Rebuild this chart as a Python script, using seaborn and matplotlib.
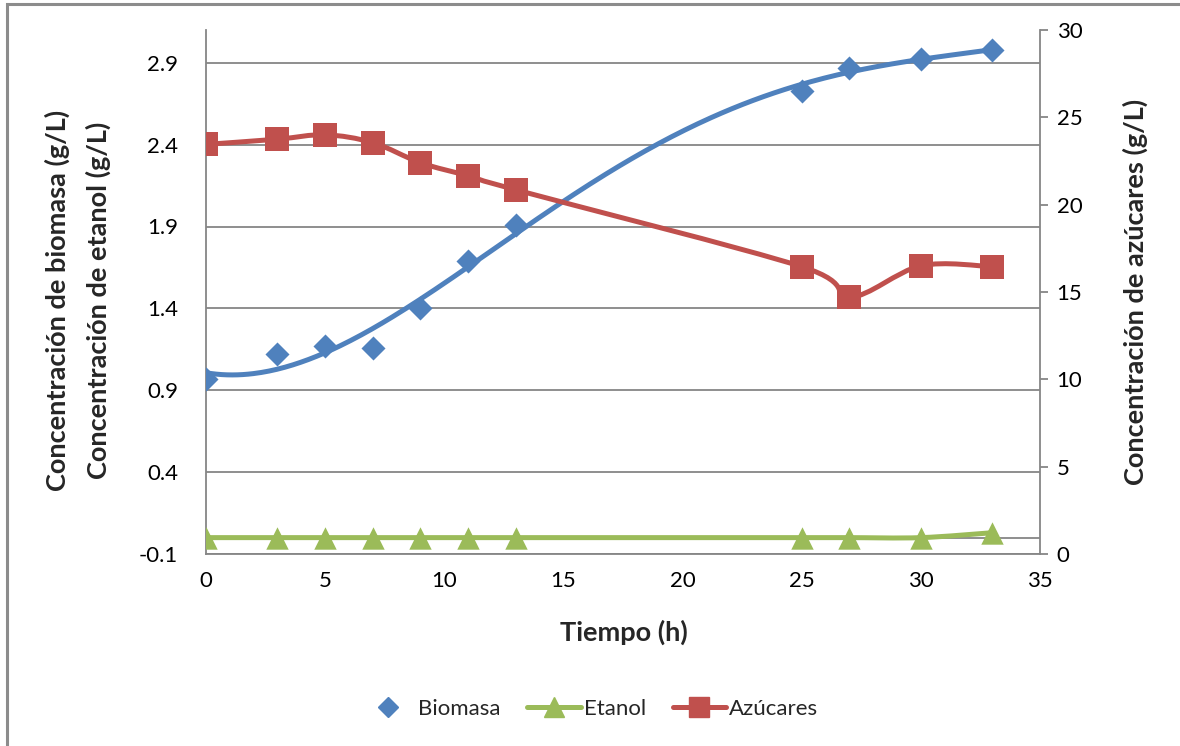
import numpy as np
import pandas as pd
import matplotlib
matplotlib.use("Agg")
import matplotlib.pyplot as plt
from matplotlib.path import Path
from matplotlib.patches import PathPatch, Rectangle
from matplotlib.lines import Line2D
import seaborn as sns

# Sampling times (h)
tiempo = [0, 3, 5, 7, 9, 11, 13, 25, 27, 30, 33]
# Concentrations (g/L)
biomasa = [0.97, 1.12, 1.17, 1.16, 1.40, 1.69, 1.91, 2.73, 2.87, 2.92, 2.98]
etanol = [0.0, 0.0, 0.0, 0.0, 0.0, 0.0, 0.0, 0.0, 0.0, 0.0, 0.03]
azucares = [23.45, 23.75, 24.0, 23.55, 22.4, 21.65, 20.85, 16.45, 14.7, 16.5, 16.45]

left_ticks = [-0.1, 0.4, 0.9, 1.4, 1.9, 2.4, 2.9]
right_ticks = [0, 5, 10, 15, 20, 25, 30]
x_ticks = [0, 5, 10, 15, 20, 25, 30, 35]

BLUE = "#4F81BD"
RED = "#C0504D"
GREEN = "#9BBB59"
GRID = "#868686"

sns.set_theme(style="white")
plt.rcParams["font.family"] = ["Lato", "DejaVu Sans"]

df = pd.DataFrame({"t": tiempo, "bio": biomasa, "eta": etanol, "azu": azucares})


def smooth_path(xs, ys):
    """Smoothed line: cubic Bezier segments with Catmull-Rom tangents."""
    pts = np.column_stack([xs, ys]).astype(float)
    n = len(pts)
    verts = [pts[0]]
    codes = [Path.MOVETO]
    for i in range(n - 1):
        p0 = pts[i - 1] if i > 0 else pts[i]
        p1, p2 = pts[i], pts[i + 1]
        p3 = pts[i + 2] if i + 2 < n else pts[i + 1]
        c1 = p1 + (p2 - p0) / 6.0
        c2 = p2 - (p3 - p1) / 6.0
        verts += [c1, c2, p2]
        codes += [Path.CURVE4] * 3
    return Path(verts, codes)


fig = plt.figure(figsize=(11.8, 7.46), dpi=100)
fig.patch.set_facecolor("white")

# Chart-area frame
fig.add_artist(Rectangle((7 / 1180, -0.1), 1.2, 1 - 4 / 746 + 0.1,
                         transform=fig.transFigure, fill=False,
                         edgecolor="#8C8C8C", linewidth=2.2))

ax = fig.add_axes([206 / 1180, 1 - 554 / 746, 834 / 1180, 524 / 746])
ax2 = ax.twinx()

# Left axis: biomass and ethanol
ax.set_xlim(0, 35)
ax.set_ylim(-0.1, 3.1)
ax.set_yticks(left_ticks)
ax.set_yticklabels([f"{v:.1f}" for v in left_ticks])
ax.set_xticks(x_ticks)
for v in left_ticks:
    ax.axhline(v, color=GRID, linewidth=1.3, zorder=0)
ax.axhline(0, color=GRID, linewidth=1.3, zorder=0)

# Fourth-order polynomial trend of biomass
coef = np.polyfit(tiempo, biomasa, 4)
tt = np.linspace(0, 33, 300)
sns.lineplot(x=tt, y=np.polyval(coef, tt), ax=ax, color=BLUE, linewidth=3.6,
             zorder=3, legend=False)
sns.scatterplot(data=df, x="t", y="bio", ax=ax, marker="D", s=150, color=BLUE,
                edgecolor=BLUE, linewidth=0, zorder=4, legend=False)

ax.add_patch(PathPatch(smooth_path(tiempo, etanol), facecolor="none",
                       edgecolor=GREEN, linewidth=3.6, zorder=3))
sns.scatterplot(data=df, x="t", y="eta", ax=ax, marker="^", s=260, color=GREEN,
                edgecolor=GREEN, linewidth=0, zorder=4, legend=False)

# Right axis: sugars
ax2.set_ylim(0, 30)
ax2.set_yticks(right_ticks)
ax2.add_patch(PathPatch(smooth_path(tiempo, azucares), facecolor="none",
                        edgecolor=RED, linewidth=3.6, zorder=3))
sns.scatterplot(data=df, x="t", y="azu", ax=ax2, marker="s", s=300, color=RED,
                edgecolor=RED, linewidth=0, zorder=4, legend=False)

for a in (ax, ax2):
    a.set_xlabel("")
    a.set_ylabel("")
    a.spines["top"].set_visible(False)
    for side in ("left", "right", "bottom"):
        a.spines[side].set_color(GRID)
        a.spines[side].set_linewidth(1.3)
    a.set_facecolor("none")

ax.spines["right"].set_visible(False)
ax2.spines["left"].set_visible(False)
ax2.spines["bottom"].set_visible(False)

ax.tick_params(axis="y", length=0, pad=20, labelsize=16, labelcolor="black")
ax.tick_params(axis="x", length=0, pad=12, labelsize=16, labelcolor="black")
ax2.tick_params(axis="y", direction="out", length=6, width=1.3, color=GRID,
                pad=6, labelsize=16, labelcolor="black")

# Axis titles
fig.text(624 / 1180, 1 - 632 / 746, "Tiempo (h)", ha="center", va="center",
         fontsize=19.5, fontweight="bold")
fig.text(78 / 1180, 1 - 300 / 746,
         "Concentración de biomasa (g/L)\nConcentración de etanol (g/L)",
         ha="center", va="center", rotation=90, fontsize=19.5,
         fontweight="bold", multialignment="center", linespacing=1.75)
fig.text(1135 / 1180, 1 - 292 / 746, "Concentración de azúcares (g/L)",
         ha="center", va="center", rotation=90, fontsize=19.5,
         fontweight="bold")

# Legend
handles = [
    Line2D([], [], linestyle="none", marker="D", markersize=10, color=BLUE),
    Line2D([], [], color=GREEN, linewidth=3.6, marker="^", markersize=14),
    Line2D([], [], color=RED, linewidth=3.6, marker="s", markersize=14),
]
fig.legend(handles, ["Biomasa", "Etanol", "Azúcares"], loc="center",
           bbox_to_anchor=(590 / 1180, 1 - 709 / 746), ncol=3, frameon=False,
           fontsize=16, handlelength=2.4, columnspacing=1.2, handletextpad=0.15)

fig.savefig("out.png", dpi=100, facecolor="white")
